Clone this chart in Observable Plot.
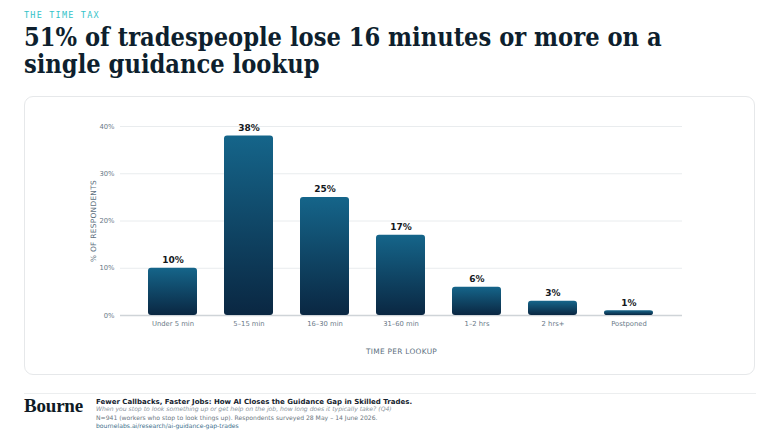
<!DOCTYPE html>
<html>
<head>
<meta charset="utf-8">
<script src="https://cdn.jsdelivr.net/npm/d3@7"></script>
<script src="https://cdn.jsdelivr.net/npm/@observablehq/plot@0.6"></script>
<style>
  html, body { margin: 0; padding: 0; background: #fff; }
  body { width: 780px; height: 439px; position: relative; overflow: hidden; font-family: "DejaVu Sans", sans-serif; }
  .kicker { position: absolute; left: 24px; top: 10px; font-family: "DejaVu Sans Mono", monospace; font-size: 8.5px; letter-spacing: 1.2px; color: #34c3c9; }
  .title { position: absolute; left: 24px; top: 24px; width: 720px; font-family: "DejaVu Serif Condensed", "DejaVu Serif", serif; font-stretch: condensed; font-weight: bold; font-size: 25.2px; line-height: 27px; color: #0e1f2e; }
  .card { position: absolute; left: 24px; top: 96px; width: 731px; height: 279px; border: 1px solid #e6e8ea; border-radius: 9px; box-sizing: border-box; }
  #chart { position: absolute; left: 24px; top: 96px; }
  .divider { position: absolute; left: 24px; top: 393px; width: 732px; height: 1px; background: #eceeef; }
  .brand { position: absolute; left: 24px; top: 395px; font-family: "Liberation Serif", serif; font-weight: bold; font-size: 19px; color: #0e1a24; letter-spacing: -0.2px; }
  .src { position: absolute; left: 96px; top: 398px; font-size: 6.1px; line-height: 8.3px; color: #6b7680; text-rendering: geometricPrecision; }
  .src .h { font-weight: bold; font-size: 7px; color: #16232e; }
  .src .q { font-style: italic; color: #8a949c; }
  .src .l { color: #3d6f8c; }
</style>
</head>
<body>
<div class="kicker">THE TIME TAX</div>
<div class="title">51% of tradespeople lose 16 minutes or more on a single guidance lookup</div>
<div class="card"></div>
<div id="chart"></div>
<div class="divider"></div>
<div class="brand">Bourne</div>
<div class="src">
  <div class="h">Fewer Callbacks, Faster Jobs: How AI Closes the Guidance Gap in Skilled Trades.</div>
  <div class="q">When you stop to look something up or get help on the job, how long does it typically take? (Q4)</div>
  <div>N=941 (workers who stop to look things up). Respondents surveyed 28 May – 14 June 2026.</div>
  <div class="l">bournelabs.ai/research/ai-guidance-gap-trades</div>
</div>
<script>
// Time spent per guidance lookup, share of respondents (%)
const durations = ["Under 5 min", "5–15 min", "16–30 min", "31–60 min", "1–2 hrs", "2 hrs+", "Postponed"];
const shares = [10, 38, 25, 17, 6, 3, 1];
const yTicks = [0, 10, 20, 30, 40];

const rows = durations.map((d, i) => ({duration: d, share: shares[i]}));

// vertical gradient shared by every bar
const gradientDefs = () => {
  const defs = d3.create("svg:defs");
  const g = defs.append("linearGradient")
    .attr("id", "barGrad").attr("x1", 0).attr("y1", 0).attr("x2", 0).attr("y2", 1);
  g.append("stop").attr("offset", "0%").attr("stop-color", "#15658a");
  g.append("stop").attr("offset", "100%").attr("stop-color", "#0a2742");
  return defs.node();
};

const chart = Plot.plot({
  width: 732,
  height: 280,
  marginLeft: 96,
  marginRight: 74,
  marginTop: 30,
  marginBottom: 61,
  style: {fontFamily: "DejaVu Sans, sans-serif", fontSize: "7px", color: "#6a7a88", background: "transparent"},
  x: {domain: durations, padding: 0.35, label: null},
  y: {domain: [0, 40], label: null},
  marks: [
    gradientDefs,
    Plot.gridY(yTicks.filter(t => t > 0), {stroke: "#e9ecee", strokeOpacity: 1, strokeWidth: 1}),
    Plot.axisY({ticks: yTicks, tickFormat: d => d + "%", tickSize: 0, tickPadding: 6, fontSize: 6.8,
      label: "% OF RESPONDENTS", labelAnchor: "center", labelArrow: "none", labelOffset: 30}),
    Plot.axisX({tickSize: 0, tickPadding: 6, fontSize: 6.8,
      label: "TIME PER LOOKUP", labelAnchor: "center", labelArrow: "none", labelOffset: 38}),
    Plot.ruleY([0], {stroke: "#cfd4d8", strokeWidth: 1.5}),
    Plot.barY(rows, {x: "duration", y: "share", fill: "url(#barGrad)", rx: 3}),
    Plot.text(rows, {x: "duration", y: "share", text: d => d.share + "%", dy: -8,
      fontWeight: "bold", fontSize: 9, fill: "#14181c"})
  ]
});
document.getElementById("chart").appendChild(chart);
// axis titles: small caps spacing
d3.select(chart).selectAll("[aria-label='y-axis label'] text, [aria-label='x-axis label'] text")
  .style("letter-spacing", "0.3px").style("font-size", "7.4px").style("fill", "#5d6f7e");
</script>
</body>
</html>
